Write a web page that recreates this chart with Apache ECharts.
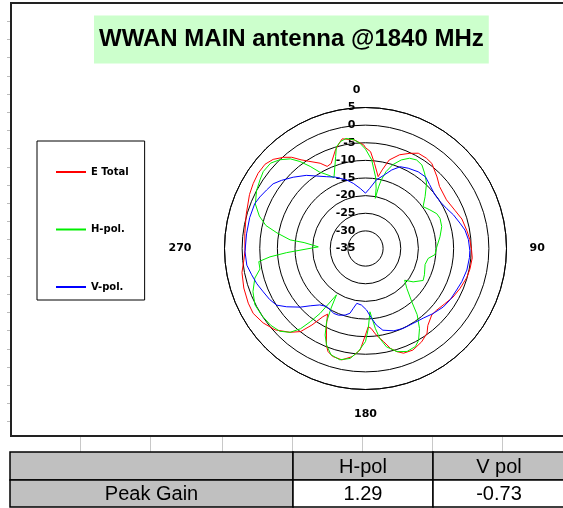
<!DOCTYPE html>
<html>
<head>
<meta charset="utf-8">
<script src="https://cdn.jsdelivr.net/npm/echarts@6/dist/echarts.min.js"></script>
<style>
  html, body { margin: 0; padding: 0; background: #fff; }
  #chart { width: 563px; height: 508px; }
</style>
</head>
<body>
<div id="chart"></div>
<script>
const chartTitle = "WWAN MAIN antenna @1840 MHz";
const seriesNames = ["E Total", "H-pol.", "V-pol."];
const seriesColors = ["#ff0000", "#00ee00", "#0000ff"];
const angleLabels = ["0", "90", "180", "270"];

// E Total (red), dB vs degrees
const eTotalAngles = [0, 3, 6, 10, 12, 15, 20, 25, 29, 34, 38, 45, 50, 59, 67, 73, 80, 85, 91, 95, 101, 106, 113, 119, 125, 131, 135, 141, 144, 149, 155, 160, 163, 166, 169, 173, 176, 178, 180, 183, 187, 192, 197, 200, 202, 207, 210, 212, 215, 218, 222, 228, 234, 240, 245, 252, 259, 265, 269, 277, 286, 295, 300, 305, 310, 314, 318, 321, 324, 327, 332, 335, 338, 343, 346, 348, 354, 359];
const eTotalDb = [-6.4, -7.5, -10.7, -14.3, -12.2, -9.0, -6.7, -5.2, -4.1, -4.1, -4.4, -6.3, -7.6, -8.2, -7.4, -6.4, -5.8, -5.3, -4.9, -4.6, -4.8, -5.1, -5.9, -6.6, -7.6, -8.3, -8.4, -6.9, -5.3, -4.1, -3.2, -3.4, -4.4, -5.8, -8.1, -10.3, -12.3, -12.8, -10.5, -6.2, -4.1, -2.7, -3.0, -3.9, -5.4, -10.6, -13.5, -12.2, -8.5, -5.1, -3.0, -0.5, 0.9, 1.8, 1.7, 1.3, 0.7, -0.4, -0.8, -0.5, 0.2, 1.3, 1.8, 2.2, 2.2, 1.4, -0.2, -1.7, -3.9, -5.5, -7.6, -9.3, -9.0, -5.8, -4.2, -3.2, -4.0, -5.6];

// H-pol (green)
const hPolAngles = [0, 4, 8, 10, 11, 12, 13, 15, 18, 22, 26, 30, 34, 38, 43, 49, 54, 59, 64, 68, 74, 81, 89, 95, 99, 105, 114, 119, 125, 129, 134, 139, 142, 146, 150, 153, 158, 163, 168, 171, 173, 175, 176, 178, 180, 184, 188, 193, 198, 202, 205, 208, 210, 212, 215, 217, 219, 222, 226, 231, 237, 243, 249, 255, 259, 263, 265, 267, 272, 275.5, 276.5, 280, 283, 287, 292, 298, 303, 307, 312, 316, 320, 323, 326, 329, 333, 336, 339.5, 342, 344, 347, 350, 354, 357];
const hPolDb = [-6.8, -9.8, -14.5, -17.6, -20.5, -17.1, -15.0, -12.4, -10.0, -7.9, -6.5, -6.0, -6.4, -7.8, -9.6, -12.6, -14.8, -13.7, -12.5, -12.2, -12.5, -13.6, -14.8, -15.2, -17.0, -17.5, -16.7, -16.3, -18.5, -20.7, -18.7, -15.0, -11.2, -7.6, -4.9, -3.8, -3.5, -4.4, -6.5, -9.2, -12.2, -15.6, -17.0, -12.3, -8.6, -5.7, -3.5, -2.6, -3.3, -5.5, -7.9, -11.5, -15.5, -19.5, -12.5, -9.0, -5.7, -3.0, -1.2, -0.4, 0.0, 0.2, -0.8, -2.5, -4.5, -4.5, -7.8, -12.6, -21.6, -17.5, -13.5, -9.5, -6.0, -3.5, -1.3, 0.0, 0.7, 1.3, 1.2, 0.0, -1.8, -4.1, -6.9, -9.7, -11.6, -13.0, -10.2, -7.6, -5.0, -3.8, -3.3, -4.0, -5.1];

// V-pol (blue)
const vPolAngles = [0, 4, 9, 14, 18.5, 23, 28, 34.5, 40, 45, 52, 58, 64, 69, 75, 79.5, 85, 91, 95, 102, 109, 114.5, 121, 127, 134, 140, 147, 155, 161, 168, 172, 175, 179, 184, 189, 191.5, 193.5, 197, 202, 206, 214, 219, 224, 228, 233.5, 237.5, 242, 247, 252, 257, 262, 268.5, 277, 285, 292, 296, 300.6, 305, 309, 314.6, 321, 326, 331.6, 337, 344.7, 349.4, 355];
const vPolDb = [-19.3, -17.9, -15.3, -13.6, -11.5, -9.8, -9.2, -8.6, -8.5, -9.3, -10.1, -10.0, -9.3, -8.3, -7.25, -6.3, -5.7, -5.4, -5.4, -5.6, -6.1, -6.6, -6.9, -7.4, -8.4, -9.3, -9.8, -9.95, -10.3, -11.3, -13.1, -15.1, -17.55, -18.9, -19.25, -17.7, -16.1, -15.25, -14.6, -14.5, -15.2, -14.4, -12.4, -10.15, -7.2, -5.1, -4.2, -3.5, -2.6, -1.85, -1.0, -0.8, -1.0, -1.0, -1.1, -1.65, -2.4, -3.0, -4.3, -6.2, -8.3, -10.2, -11.85, -13.0, -14.85, -16.2, -17.9];

const tableHeader = ["", "H-pol", "V pol"];
const tableRow = ["Peak Gain", "1.29", "-0.73"];

function toPolar(angles, values) {
  const pts = angles.map((a, i) => [values[i], a]);
  pts.push([values[0], 360]);
  return pts;
}

const chart = echarts.init(document.getElementById("chart"));

const labelFont = { color: "#000", fontFamily: "DejaVu Sans", fontWeight: "bold", fontSize: 11 };

// spreadsheet bits around the chart: frame, grid row, peak gain table
const colX = [10, 293, 433, 573];
const rowY = [452, 480, 507];
const graphics = [
  { type: "rect", shape: { x: 11, y: 3, width: 600, height: 433 }, style: { fill: "none", stroke: "#222", lineWidth: 2 } },
];
[80, 150, 222, 292, 362, 432, 502].forEach((x) => {
  graphics.push({ type: "line", shape: { x1: x + 0.5, y1: 437, x2: x + 0.5, y2: 452 }, style: { stroke: "#c8c8c8", lineWidth: 1 } });
});
for (let y = 21; y < 436; y += 18.2) {
  graphics.push({ type: "line", shape: { x1: 7, y1: Math.round(y) + 0.5, x2: 10, y2: Math.round(y) + 0.5 }, style: { stroke: "#bbb", lineWidth: 1 } });
}
for (let c = 0; c < 3; c++) {
  graphics.push({
    type: "rect",
    shape: { x: colX[c], y: rowY[0], width: colX[c + 1] - colX[c], height: rowY[1] - rowY[0] },
    style: { fill: "#c0c0c0", stroke: "#000", lineWidth: 1.5 },
  });
  graphics.push({
    type: "rect",
    shape: { x: colX[c], y: rowY[1], width: colX[c + 1] - colX[c], height: rowY[2] - rowY[1] },
    style: { fill: c === 0 ? "#c0c0c0" : "#fff", stroke: "#000", lineWidth: 1.5 },
  });
  const cx = c === 2 ? (colX[2] + 565) / 2 : (colX[c] + colX[c + 1]) / 2;
  graphics.push({
    type: "text",
    style: { text: tableHeader[c], x: cx, y: (rowY[0] + rowY[1]) / 2 + 1, textAlign: "center", textVerticalAlign: "middle", fontSize: 20, fontFamily: "Liberation Sans", fill: "#000" },
  });
  graphics.push({
    type: "text",
    style: { text: tableRow[c], x: cx, y: (rowY[1] + rowY[2]) / 2 + 1, textAlign: "center", textVerticalAlign: "middle", fontSize: 20, fontFamily: "Liberation Sans", fill: "#000" },
  });
}

chart.setOption({
  animation: false,
  backgroundColor: "#fff",
  title: {
    text: chartTitle,
    left: 94,
    top: 15.5,
    padding: [12, 5, 12, 5],
    backgroundColor: "#ccffcc",
    textStyle: { fontFamily: "Liberation Sans", fontWeight: "bold", fontSize: 24, lineHeight: 24, color: "#000" },
  },
  legend: {
    data: seriesNames,
    orient: "vertical",
    left: 37,
    top: 141,
    padding: [24, 16, 6, 19],
    itemGap: 43.5,
    itemWidth: 30,
    itemHeight: 2,
    icon: "rect",
    itemStyle: { borderWidth: 0 },
    borderColor: "#000",
    borderWidth: 1,
    textStyle: { color: "#000", fontFamily: "DejaVu Sans", fontWeight: "bold", fontSize: 10, lineHeight: 14 },
  },
  polar: { center: [365.5, 248.5], radius: 141 },
  angleAxis: {
    type: "value",
    min: 0,
    max: 360,
    interval: 90,
    startAngle: 90,
    clockwise: true,
    axisLine: { show: true, lineStyle: { color: "#000", width: 1 } },
    axisTick: { show: false },
    splitLine: { show: false },
    axisLabel: {
      margin: 12,
      ...labelFont,
      formatter: (v) => (v >= 360 ? "" : "{a" + v + "|" + angleLabels[v / 90] + "}"),
      rich: {
        a0: { ...labelFont, padding: [0, 18, 0, 0] },
        a90: { ...labelFont, padding: [0, 0, 0, 11] },
        a180: { ...labelFont, padding: [7, 0, 0, 0] },
        a270: { ...labelFont, padding: [0, 21, 0, 0] },
      },
    },
  },
  radiusAxis: {
    type: "value",
    min: -35,
    max: 5,
    interval: 5,
    axisLine: { show: false },
    axisTick: { show: false },
    splitLine: { show: true, lineStyle: { color: "#000", width: 1 } },
    axisLabel: { ...labelFont, margin: 10 },
  },
  series: [
    { name: seriesNames[0], type: "line", coordinateSystem: "polar", symbol: "none", color: seriesColors[0], lineStyle: { width: 1 }, data: toPolar(eTotalAngles, eTotalDb) },
    { name: seriesNames[1], type: "line", coordinateSystem: "polar", symbol: "none", color: seriesColors[1], lineStyle: { width: 1 }, data: toPolar(hPolAngles, hPolDb) },
    { name: seriesNames[2], type: "line", coordinateSystem: "polar", symbol: "none", color: seriesColors[2], lineStyle: { width: 1 }, data: toPolar(vPolAngles, vPolDb) },
  ],
  graphic: graphics,
});
</script>
</body>
</html>
